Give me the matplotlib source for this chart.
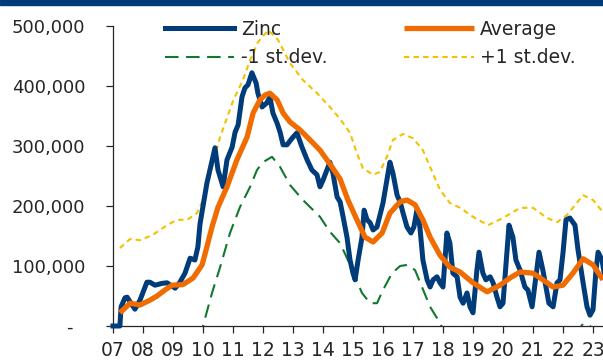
import matplotlib
matplotlib.use("Agg")
import matplotlib.pyplot as plt
from matplotlib.patches import Rectangle
from matplotlib.ticker import FuncFormatter, MultipleLocator
import numpy as np

# Zinc stocks (thousand tonnes), decimal years
zinc_t = [2007.00, 2007.23, 2007.27, 2007.40, 2007.47, 2007.73, 2007.90, 2008.13, 2008.23,
          2008.40, 2008.63, 2008.80, 2009.07, 2009.23, 2009.40, 2009.57, 2009.73, 2009.83,
          2009.90, 2010.00, 2010.13, 2010.23, 2010.40, 2010.50, 2010.67, 2010.80, 2010.97,
          2011.07, 2011.17, 2011.30, 2011.40, 2011.50, 2011.63, 2011.77, 2011.83, 2011.97,
          2012.13, 2012.23, 2012.33, 2012.47, 2012.57, 2012.67, 2012.80, 2012.97, 2013.13,
          2013.30, 2013.47, 2013.63, 2013.80, 2013.90, 2014.00, 2014.13, 2014.23, 2014.33,
          2014.47, 2014.57, 2014.67, 2014.80, 2014.90, 2015.00, 2015.07, 2015.17, 2015.30,
          2015.37, 2015.47, 2015.57, 2015.67, 2015.80, 2015.90, 2016.00, 2016.13, 2016.23,
          2016.33, 2016.47, 2016.57, 2016.67, 2016.80, 2016.93, 2017.03, 2017.13, 2017.23,
          2017.33, 2017.47, 2017.57, 2017.67, 2017.80, 2017.90, 2018.00, 2018.13, 2018.23,
          2018.33, 2018.47, 2018.57, 2018.67, 2018.80, 2018.90, 2019.00, 2019.13, 2019.20,
          2019.33, 2019.43, 2019.57, 2019.67, 2019.80, 2019.90, 2020.00, 2020.13, 2020.20,
          2020.33, 2020.43, 2020.57, 2020.73, 2020.83, 2020.97, 2021.07, 2021.20, 2021.33,
          2021.43, 2021.53, 2021.67, 2021.80, 2021.90, 2022.00, 2022.10, 2022.23, 2022.40,
          2022.50, 2022.67, 2022.80, 2022.90, 2023.00, 2023.10, 2023.17, 2023.30, 2023.40]
zinc = [0, 0, 32, 47, 48, 28, 43, 73, 73,
        68, 71, 72, 63, 73, 88, 113, 110, 132,
        170, 200, 238, 260, 297, 260, 232, 277, 298,
        323, 335, 382, 397, 402, 422, 405, 388, 365,
        372, 382, 355, 338, 323, 302, 302, 313, 322,
        298, 277, 260, 252, 232, 243, 260, 273, 255,
        215, 207, 182, 148, 110, 88, 77, 110, 148,
        193, 177, 172, 160, 165, 185, 205, 243, 273,
        255, 218, 207, 188, 165, 155, 165, 193, 165,
        110, 77, 65, 77, 82, 72, 65, 155, 138,
        88, 82, 48, 38, 55, 32, 22, 93, 123,
        88, 77, 82, 72, 48, 32, 38, 122, 168,
        148, 110, 93, 65, 60, 32, 72, 123, 93,
        65, 38, 32, 72, 77, 122, 177, 180, 168,
        127, 72, 32, 18, 27, 93, 123, 110, 80]

avg_t = [2007.23, 2007.57, 2007.90, 2008.23, 2008.47, 2008.73, 2008.97, 2009.33, 2009.67,
         2009.97, 2010.13, 2010.30, 2010.50, 2010.80, 2011.13, 2011.47, 2011.67, 2011.90,
         2012.07, 2012.23, 2012.47, 2012.67, 2012.90, 2013.23, 2013.57, 2013.90, 2014.23,
         2014.57, 2014.83, 2015.13, 2015.40, 2015.67, 2015.97, 2016.23, 2016.57, 2016.80,
         2017.07, 2017.33, 2017.57, 2017.90, 2018.23, 2018.57, 2019.00, 2019.47, 2019.90,
         2020.23, 2020.57, 2021.00, 2021.33, 2021.67, 2022.00, 2022.33, 2022.67, 2023.00,
         2023.33]
average = [22, 38, 35, 43, 50, 60, 68, 69, 80,
           102, 132, 165, 198, 232, 277, 315, 355, 377,
           385, 388, 377, 355, 340, 327, 310, 293, 270,
           245, 210, 177, 148, 140, 155, 188, 207, 210,
           202, 177, 148, 118, 98, 90, 72, 57, 68,
           80, 90, 88, 77, 65, 68, 88, 112, 102,
           77]

upper_t = [2007.23, 2007.57, 2007.90, 2008.33, 2008.80, 2009.13, 2009.47, 2009.80, 2010.00,
           2010.23, 2010.57, 2011.00, 2011.33, 2011.57, 2011.83, 2012.17, 2012.50, 2012.90,
           2013.33, 2013.80, 2014.23, 2014.57, 2014.90, 2015.13, 2015.33, 2015.67, 2015.90,
           2016.13, 2016.33, 2016.67, 2017.00, 2017.33, 2017.57, 2017.90, 2018.23, 2018.57,
           2019.00, 2019.50, 2020.00, 2020.57, 2021.00, 2021.47, 2021.80, 2022.13, 2022.67,
           2023.00, 2023.33]
upper = [130, 145, 143, 152, 168, 177, 177, 188, 210,
         250, 315, 375, 410, 443, 473, 493, 477, 438,
         410, 388, 365, 345, 322, 288, 263, 252, 257,
         282, 310, 320, 313, 293, 265, 227, 205, 197,
         182, 168, 180, 197, 197, 180, 173, 185, 218,
         210, 190]

lower_t = [2009.90, 2010.07, 2010.30, 2010.57, 2010.90, 2011.23, 2011.57, 2011.80, 2012.00,
           2012.30, 2012.57, 2012.90, 2013.33, 2013.90, 2014.23, 2014.57, 2014.83, 2015.07,
           2015.30, 2015.57, 2015.80, 2016.00, 2016.30, 2016.57, 2016.83, 2017.07, 2017.30,
           2017.57, 2017.90, 2018.13, np.nan, 2022.40, 2022.67, 2022.90, 2023.05]
lower = [-20, 13, 55, 98, 155, 198, 232, 260, 273,
         282, 265, 235, 210, 182, 157, 138, 110, 82,
         55, 38, 38, 60, 88, 100, 102, 93, 65,
         32, 5, -20, np.nan, -15, 4, 0, -12]

years = list(range(2007, 2024))
year_labels = [f"{y % 100:02d}" for y in years]

navy = "#003b7a"
orange = "#f06c00"
green = "#12782f"
gold = "#f2c200"
ink = "#262626"

fig = plt.figure(figsize=(6.03, 3.61), dpi=100)
fig.patches.append(Rectangle((0, 1 - 5 / 361), 1, 5 / 361, transform=fig.transFigure,
                             color=navy, zorder=0))
ax = fig.add_axes([113 / 603, 35 / 361, 490 / 603, 300 / 361])

k = 1000
l_up, = ax.plot(upper_t, np.array(upper) * k, color=gold, lw=1.5, dashes=(2.6, 2.0),
                label="+1 st.dev.", zorder=2)
l_lo, = ax.plot(lower_t, np.array(lower) * k, color=green, lw=1.5, dashes=(6.5, 3.6),
                label="-1 st.dev.", zorder=2)
l_zn, = ax.plot(zinc_t, np.array(zinc) * k, color=navy, lw=3.6, label="Zinc", zorder=3,
                solid_joinstyle="round", clip_on=False)
l_av, = ax.plot(avg_t, np.array(average) * k, color=orange, lw=3.8, label="Average",
                zorder=4, solid_capstyle="butt", clip_on=False)

ax.set_xlim(2007, 2007 + 490 / 30)
ax.set_ylim(0, 500000)

ax.set_xticks(years)
ax.set_xticklabels(year_labels)
ax.yaxis.set_major_locator(MultipleLocator(100000))
ax.yaxis.set_major_formatter(FuncFormatter(lambda v, p: "-  " if v == 0 else f"{v:,.0f}"))

for s in ("top", "right"):
    ax.spines[s].set_visible(False)
for s in ("left", "bottom"):
    ax.spines[s].set_color(ink)
    ax.spines[s].set_linewidth(0.9)
ax.tick_params(axis="y", direction="out", length=5, width=0.9, color=ink,
               labelsize=13, labelcolor=ink, pad=15)
ax.tick_params(axis="x", direction="out", length=5, width=0.9, color=ink,
               labelsize=13.5, labelcolor=ink, pad=6)

# legend fills column-wise: Zinc / -1 in the first column, Average / +1 in the second
lines = [l_zn, l_lo, l_av, l_up]
ax.legend(lines, [l.get_label() for l in lines], ncol=2,
          loc="upper left", bbox_to_anchor=(165 / 603, 1 - 20 / 361),
          bbox_transform=fig.transFigure, frameon=False, fontsize=13.5,
          handlelength=3.7, handletextpad=0.35, columnspacing=4.1,
          labelspacing=0.5, borderpad=0, borderaxespad=0,
          labelcolor=ink)

fig.savefig("out.png", dpi=100)
